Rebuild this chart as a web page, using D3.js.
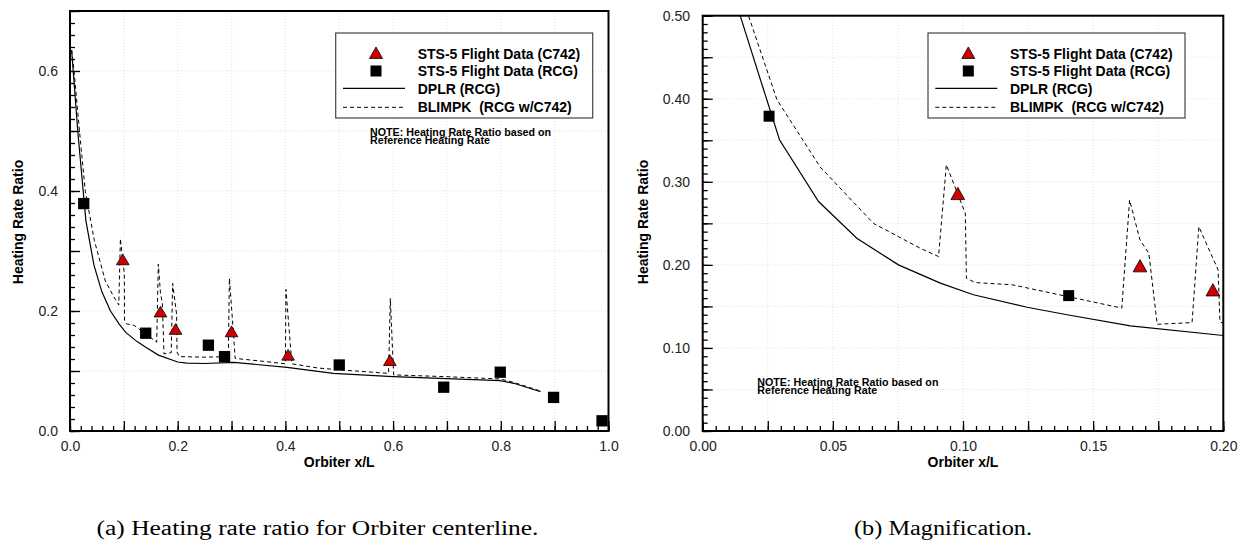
<!DOCTYPE html>
<html>
<head>
<meta charset="utf-8">
<script src="https://cdn.jsdelivr.net/npm/d3@7"></script>
<style>
body { margin: 0; background: #fff; }
svg { display: block; }
text { font-family: "Liberation Sans", Arial, sans-serif; }
text.caption { font-family: "Liberation Serif", "DejaVu Serif", serif; }
</style>
</head>
<body>
<svg id="chart" width="1244" height="542"></svg>
<script>
// DPLR (RCG) - solid line
const dplrX = [0.003, 0.0144, 0.0295, 0.0445, 0.0592, 0.0752, 0.0913, 0.104, 0.1246, 0.140, 0.1643, 0.2, 0.217, 0.25, 0.304, 0.403, 0.489, 0.6, 0.799, 0.824, 0.874];
const dplrY = [0.635, 0.50, 0.3506, 0.2763, 0.232, 0.200, 0.178, 0.164, 0.149, 0.140, 0.1265, 0.115, 0.113, 0.1125, 0.1145, 0.106, 0.096, 0.0905, 0.084, 0.0795, 0.0655];

// BLIMPK (RCG w/C742) - dashed line
const blimpkX = [0.003, 0.0075, 0.0176, 0.0285, 0.0451, 0.0656, 0.0836, 0.0906, 0.0936, 0.1009, 0.1013, 0.1047, 0.119, 0.161, 0.164, 0.168, 0.1714, 0.1746, 0.188, 0.1906, 0.198, 0.1987, 0.203, 0.25, 0.294, 0.296, 0.3035, 0.3067, 0.36, 0.400, 0.401, 0.412, 0.46, 0.5, 0.5916, 0.5948, 0.601, 0.70, 0.799, 0.824, 0.874];
const blimpkY = [0.635, 0.60, 0.50, 0.399, 0.318, 0.250, 0.220, 0.210, 0.3205, 0.262, 0.184, 0.1787, 0.176, 0.148, 0.278, 0.230, 0.214, 0.1285, 0.1305, 0.246, 0.194, 0.1317, 0.124, 0.123, 0.124, 0.2545, 0.163, 0.121, 0.116, 0.112, 0.236, 0.112, 0.105, 0.102, 0.096, 0.221, 0.0935, 0.0905, 0.0867, 0.081, 0.0665];

// STS-5 flight data
const c742X = [0.098, 0.168, 0.196, 0.300, 0.405, 0.594];
const c742Y = [0.286, 0.199, 0.170, 0.166, 0.127, 0.118];
const rcgX = [0.0255, 0.1406, 0.257, 0.287, 0.500, 0.694, 0.799, 0.898, 0.988];
const rcgY = [0.379, 0.163, 0.143, 0.124, 0.110, 0.073, 0.098, 0.056, 0.017];

const legendLabels = ["STS-5 Flight Data (C742)", "STS-5 Flight Data (RCG)", "DPLR (RCG)", "BLIMPK  (RCG w/C742)"];
const noteLines = ["NOTE: Heating Rate Ratio based on", "Reference Heating Rate"];

const leftXLabels = [0, 0.2, 0.4, 0.6, 0.8, 1.0];
const leftYLabels = [0, 0.2, 0.4, 0.6];
const rightXLabels = [0, 0.05, 0.10, 0.15, 0.20];
const rightYLabels = [0, 0.1, 0.2, 0.3, 0.4, 0.5];

const svg = d3.select('#chart');

const dplr = dplrX.map((x, i) => [x, dplrY[i]]);
const blimpk = blimpkX.map((x, i) => [x, blimpkY[i]]);
const c742 = c742X.map((x, i) => [x, c742Y[i]]);
const rcg = rcgX.map((x, i) => [x, rcgY[i]]);

function steps(lo, hi, step) {
    const n = Math.round((hi - lo) / step);
    return d3.range(n + 1).map(i => lo + i * step);
}

function triPath(cx, cy, w, h) {
    return `M${cx - w / 2},${cy + h / 2}L${cx + w / 2},${cy + h / 2}L${cx},${cy - h / 2}Z`;
}

function drawPanel(p, id) {
    const x = d3.scaleLinear().domain(p.xDom).range([p.x0, p.x1]);
    const y = d3.scaleLinear().domain(p.yDom).range([p.y0, p.y1]);
    const g = svg.append('g');

    g.append('clipPath').attr('id', 'clip' + id)
        .append('rect').attr('x', p.x0).attr('y', p.y1)
        .attr('width', p.x1 - p.x0).attr('height', p.y0 - p.y1);

    // faint dotted grid
    g.append('g').selectAll('line').data(steps(p.xDom[0], p.xDom[1], p.xGrid)).join('line')
        .attr('x1', d => x(d)).attr('x2', d => x(d)).attr('y1', p.y0).attr('y2', p.y1)
        .attr('stroke', '#d8d8d8').attr('stroke-width', 0.8).attr('stroke-dasharray', '1,2');
    g.append('g').selectAll('line').data(steps(p.yDom[0], p.yDom[1], p.yGrid)).join('line')
        .attr('y1', d => y(d)).attr('y2', d => y(d)).attr('x1', p.x0).attr('x2', p.x1)
        .attr('stroke', '#d8d8d8').attr('stroke-width', 0.8).attr('stroke-dasharray', '1,2');

    // inward ticks
    const tickAxes = [
        [d3.axisBottom(x).tickValues(steps(p.xDom[0], p.xDom[1], p.xMinor)).tickSize(-5), `translate(0,${p.y0})`],
        [d3.axisBottom(x).tickValues(steps(p.xDom[0], p.xDom[1], p.xMajor)).tickSize(-10), `translate(0,${p.y0})`],
        [d3.axisLeft(y).tickValues(steps(p.yDom[0], p.yDom[1], p.yMinor)).tickSize(-5), `translate(${p.x0},0)`],
        [d3.axisLeft(y).tickValues(steps(p.yDom[0], p.yDom[1], p.yMajor)).tickSize(-10), `translate(${p.x0},0)`]
    ];
    tickAxes.forEach(([ax, tr]) => {
        const a = g.append('g').attr('transform', tr).call(ax.tickFormat(''));
        a.select('.domain').remove();
        a.selectAll('line').attr('stroke', '#000').attr('stroke-width', 1.3);
    });

    // tick labels
    const xl = g.append('g').attr('transform', `translate(0,${p.y0})`)
        .call(d3.axisBottom(x).tickValues(p.xLabels).tickSize(0).tickPadding(10.5).tickFormat(d3.format(p.fmt)));
    const yl = g.append('g').attr('transform', `translate(${p.x0},0)`)
        .call(d3.axisLeft(y).tickValues(p.yLabels).tickSize(0).tickPadding(p.yPad).tickFormat(d3.format(p.fmt)));
    [xl, yl].forEach(a => {
        a.select('.domain').remove();
        a.selectAll('text').attr('font-size', 14).attr('fill', '#222')
            .style('font-family', '"Liberation Sans", Arial, sans-serif');
    });

    // lines
    const line = d3.line().x(d => x(d[0])).y(d => y(d[1]));
    const lines = g.append('g').attr('clip-path', `url(#clip${id})`);
    lines.append('path').datum(dplr).attr('d', line)
        .attr('fill', 'none').attr('stroke', '#000').attr('stroke-width', 1.2);
    lines.append('path').datum(blimpk).attr('d', line)
        .attr('fill', 'none').attr('stroke', '#000').attr('stroke-width', 1)
        .attr('stroke-dasharray', '4,3');

    // markers
    const inDom = d => d[0] >= p.xDom[0] && d[0] <= p.xDom[1] && d[1] <= p.yDom[1];
    g.append('g').selectAll('rect').data(rcg.filter(inDom)).join('rect')
        .attr('x', d => x(d[0]) - p.sq / 2).attr('y', d => y(d[1]) - p.sq / 2)
        .attr('width', p.sq).attr('height', p.sq).attr('fill', '#000');
    g.append('g').selectAll('path').data(c742.filter(inDom)).join('path')
        .attr('d', d => triPath(x(d[0]), y(d[1]), p.triW, p.triH))
        .attr('fill', '#d00000').attr('stroke', '#000').attr('stroke-width', 0.8);

    // frame
    g.append('rect').attr('x', p.x0).attr('y', p.y1)
        .attr('width', p.x1 - p.x0).attr('height', p.y0 - p.y1)
        .attr('fill', 'none').attr('stroke', '#000').attr('stroke-width', 2);

    // axis titles
    g.append('text').attr('x', (p.x0 + p.x1) / 2).attr('y', 467)
        .attr('text-anchor', 'middle').attr('font-size', 14).attr('font-weight', 'bold')
        .text('Orbiter x/L');
    g.append('text').attr('transform', `translate(${p.yTitleX},222) rotate(-90)`)
        .attr('dy', '0.35em').attr('text-anchor', 'middle').attr('font-size', 14)
        .attr('font-weight', 'bold').text('Heating Rate Ratio');

    // legend
    const lx = p.legendX;
    const leg = g.append('g');
    leg.append('rect').attr('x', lx).attr('y', 33).attr('width', 257).attr('height', 85)
        .attr('fill', '#fff').attr('stroke', '#444').attr('stroke-width', 1.2);
    leg.append('path').attr('d', triPath(lx + 40.3, 52.7, 13, 11.5))
        .attr('fill', '#d00000').attr('stroke', '#000').attr('stroke-width', 0.8);
    leg.append('rect').attr('x', lx + 40.3 - 5.5).attr('y', 71 - 5.5).attr('width', 11).attr('height', 11)
        .attr('fill', '#000');
    leg.append('line').attr('x1', lx + 7.3).attr('x2', lx + 69.3).attr('y1', 88.3).attr('y2', 88.3)
        .attr('stroke', '#000').attr('stroke-width', 1.2);
    leg.append('line').attr('x1', lx + 7.3).attr('x2', lx + 69.3).attr('y1', 107.3).attr('y2', 107.3)
        .attr('stroke', '#000').attr('stroke-width', 1).attr('stroke-dasharray', '4,3');
    const baselines = [59, 76, 93.5, 112];
    leg.selectAll('text.lab').data(legendLabels).join('text')
        .attr('x', lx + 82).attr('y', (d, i) => baselines[i])
        .attr('font-size', 14).attr('font-weight', 'bold')
        .style('white-space', 'pre').text(d => d);

    // note, two lines in one text element
    const note = g.append('text').attr('font-size', 10.7).attr('font-weight', 'bold');
    note.selectAll('tspan').data(noteLines).join('tspan')
        .attr('x', p.noteX).attr('y', (d, i) => p.noteY + i * 8.3).text(d => d);

    // caption
    svg.append('text').attr('class', 'caption').attr('x', p.capX).attr('y', 535)
        .attr('font-size', 20)
        .attr('textLength', p.capW).attr('lengthAdjust', 'spacingAndGlyphs')
        .text(p.caption);
}

drawPanel({
    x0: 70, x1: 608.5, y0: 431, y1: 11,
    xDom: [0, 1], yDom: [0, 0.7],
    xMajor: 0.1, xMinor: 0.02, yMajor: 0.1, yMinor: 0.02,
    xGrid: 0.1, yGrid: 0.1,
    xLabels: leftXLabels, yLabels: leftYLabels, fmt: '.1f', yPad: 12,
    sq: 11.3, triW: 12.7, triH: 10.7,
    yTitleX: 18.5, legendX: 335.7, noteX: 370, noteY: 136,
    capX: 96.5, capW: 442, caption: '(a) Heating rate ratio for Orbiter centerline.'
}, 'L');

drawPanel({
    x0: 702.7, x1: 1223.3, y0: 431, y1: 15.7,
    xDom: [0, 0.2], yDom: [0, 0.5],
    xMajor: 0.025, xMinor: 0.005, yMajor: 0.05, yMinor: 0.01,
    xGrid: 0.025, yGrid: 0.05,
    xLabels: rightXLabels, yLabels: rightYLabels, fmt: '.2f', yPad: 12.7,
    sq: 11, triW: 13.7, triH: 12.3,
    yTitleX: 643.5, legendX: 928, noteX: 757.3, noteY: 385.7,
    capX: 854, capW: 178, caption: '(b) Magnification.'
}, 'R');
</script>
</body>
</html>
